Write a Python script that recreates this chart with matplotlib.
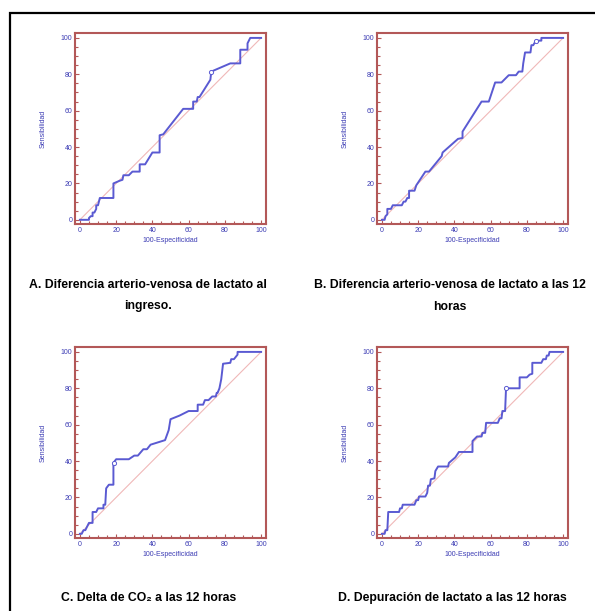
import numpy as np
import matplotlib
matplotlib.use("Agg")
import matplotlib.pyplot as plt
from matplotlib.patches import Rectangle

plt.rcParams['font.family'] = ['Liberation Sans', 'DejaVu Sans']

# ROC curves: x = 100-Especificidad, y = Sensibilidad
a_x = [0, 5, 5, 6, 7, 7, 8, 9, 9, 10, 11, 18.5, 18.5, 22, 23.5, 24, 27, 29, 33, 33, 36, 40, 44, 44,
       46, 57, 62.5, 62.5, 64.5, 65, 66, 72, 72.5, 83, 88.5, 88.5, 92.5, 92.5, 94, 100]
a_y = [0, 0, 1, 2, 2, 4, 4, 6, 8, 8, 12, 12, 20, 21.5, 22, 24.5, 24.5, 26.5, 26.5, 30.5, 30.5, 37, 37, 46.5,
       47, 61, 61, 65, 65, 67.5, 67.5, 77, 81.5, 86, 86, 93.5, 93.5, 97, 100, 100]
a_mark = (72.5, 81.5)

b_x = [0, 1.5, 2, 3, 3, 5, 6, 11, 12, 13, 14, 15, 15, 18, 19, 24, 26, 33, 33.5, 42, 44.5, 44.5,
       55, 59, 62.5, 66, 70, 74, 75.5, 77.5, 78, 79, 82, 82.5, 83.5, 85, 88, 88, 100]
b_y = [0, 0, 2, 3, 6, 6, 8, 8, 10, 10, 12, 12, 16, 16, 19, 26.5, 26.5, 35, 37, 44.5, 45, 48.5,
       65, 65, 75.5, 75.5, 79.5, 79.5, 81.5, 81.5, 86, 92, 92, 96, 96, 98.5, 98.5, 100, 100]
b_mark = (85, 98.5)

c_x = [0, 1, 2, 3, 4, 5, 7, 7, 9, 10, 13, 13, 14, 14.5, 16, 18.5, 18.5, 20, 27, 30, 32, 35, 37, 39,
       47, 49, 50, 55, 60, 65, 65, 68, 69, 71, 73, 75, 75.5, 76, 77, 78, 79, 83, 83.5, 85, 87, 87, 100]
c_y = [0, 0, 2, 2, 4, 6, 6, 12, 12, 14, 14, 16, 16, 25, 27, 27, 39, 41, 41, 43, 43, 46.5, 46.5, 49,
       51.5, 57, 63, 65, 67.5, 67.5, 71, 71, 73.5, 73.5, 75.5, 75.5, 77.5, 77.5, 80, 85, 93.5, 94, 96, 96,
       98.5, 100, 100]
c_mark = (18.8, 39)

d_x = [0, 1.5, 2, 3, 3.5, 9.5, 10, 11, 11.5, 18, 19, 20, 20.5, 24, 25, 25.5, 26.5, 27, 29, 29.5, 31,
       36.5, 37, 40.5, 42.5, 50, 50, 51, 52.5, 55, 55.5, 57, 57.5, 64, 65, 66, 66.5, 68, 68.5, 76, 76,
       80, 81.5, 83, 83, 88, 89, 90.5, 91, 92, 92.5, 100]
d_y = [0, 0, 2, 2, 12, 12, 14, 14, 16, 16, 18.5, 18.5, 20.5, 20.5, 22.5, 26.5, 26.5, 30, 30.5, 34.5, 37,
       37, 39, 42, 45, 45, 51, 52, 53.5, 53.5, 55.5, 55.5, 61, 61, 63.5, 63.5, 67.5, 67.5, 80, 80, 86,
       86, 87.5, 88, 94, 94, 96, 96, 98, 98, 100, 100]
d_mark = (68.5, 80)

captions = ["A. Diferencia arterio-venosa de lactato al\ningreso.",
            "B. Diferencia arterio-venosa de lactato a las 12\nhoras",
            "C. Delta de CO\u2082 a las 12 horas",
            "D. Depuración de lactato a las 12 horas"]

frame_col = "#b35858"
text_col = "#3c3cb4"
curve_col = "#5a5ad2"
diag_col = "#f0b8b8"

fig = plt.figure(figsize=(5.95, 6.11), dpi=100)

# outer black border
fig.patches.append(Rectangle((10 / 595, -0.05), 1.2, 1 - 13 / 611 + 0.05, transform=fig.transFigure,
                             fill=False, edgecolor="black", linewidth=1.6))

positions = [(75, 33), (377, 33), (75, 347), (377, 347)]
curves = [(a_x, a_y, a_mark), (b_x, b_y, b_mark), (c_x, c_y, c_mark), (d_x, d_y, d_mark)]

for (px, py), (xs, ys, mk) in zip(positions, curves):
    ax = fig.add_axes([px / 595, 1 - (py + 191) / 611, 191 / 595, 191 / 611])
    ax.plot([0, 100], [0, 100], color=diag_col, lw=0.8)
    ax.plot(xs, ys, color=curve_col, lw=1.4)
    ax.plot(*mk, marker="o", ms=3, mfc="white", mec=curve_col, mew=0.7)
    ax.set_xlim(-2.7, 102.7)
    ax.set_ylim(-2.3, 102.7)
    ax.set_xticks(np.arange(0, 101, 20))
    ax.set_yticks(np.arange(0, 101, 20))
    ax.set_xticks(np.arange(0, 101, 5), minor=True)
    ax.set_yticks(np.arange(0, 101, 5), minor=True)
    ax.tick_params(which="both", direction="in", colors=frame_col, labelcolor=text_col,
                   labelsize=5, length=3, width=0.8, pad=2)
    ax.tick_params(which="minor", length=2)
    for s in ax.spines.values():
        s.set_color(frame_col)
        s.set_linewidth(1.5)
    ax.set_xlabel("100-Especificidad", fontsize=5, color=text_col, labelpad=2)
    ax.set_ylabel("Sensibilidad", fontsize=5, color=text_col, labelpad=10)

cap_pos = [(148, 296), (450, 296), (149, 598), (452, 598)]
for (cx, cy), txt in zip(cap_pos, captions):
    fig.text(cx / 595, 1 - cy / 611, txt, ha="center", va="center", fontsize=8.8,
             fontweight="bold", linespacing=2.0)

fig.savefig("out.png", dpi=100)
